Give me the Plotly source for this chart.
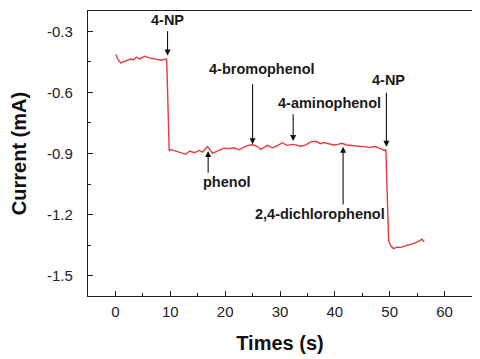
import plotly.graph_objects as go

# Amperometric response
time_s = [0.1, 0.5, 1.0, 1.5, 2.0, 2.85, 3.3, 3.8, 4.4, 5.3, 6.2, 7.1, 8.3, 9.2, 9.35,
          9.8, 10.1, 11.0, 11.9, 12.9, 13.5, 14.4, 15.3, 15.9, 16.8, 17.7, 18.6, 19.8,
          20.7, 21.6, 22.5, 23.8, 25.0, 25.9, 26.5, 27.7, 28.6, 29.5, 30.4, 31.3, 32.5,
          33.8, 34.7, 35.6, 36.5, 37.4, 38.0, 38.6, 39.8, 40.5, 41.3, 42.1, 42.9, 44.0,
          45.3, 46.5, 47.3, 48.0, 48.6, 49.0, 49.3,
          49.8, 50.2, 50.7, 51.3, 51.9, 52.5, 53.2, 54.0, 55.0, 55.9, 56.3]
current_ma = [-0.414, -0.44, -0.455, -0.45, -0.442, -0.435, -0.44, -0.426, -0.435, -0.422,
              -0.43, -0.435, -0.442, -0.435, -0.44,
              -0.888, -0.88, -0.888, -0.896, -0.904, -0.888, -0.896, -0.885, -0.893, -0.866,
              -0.898, -0.888, -0.874, -0.876, -0.872, -0.882, -0.864, -0.856, -0.866, -0.88,
              -0.86, -0.872, -0.862, -0.847, -0.86, -0.855, -0.864, -0.858, -0.843, -0.84,
              -0.852, -0.846, -0.851, -0.858, -0.855, -0.85, -0.858, -0.86, -0.86, -0.864,
              -0.87, -0.866, -0.872, -0.878, -0.886, -0.88,
              -1.329, -1.355, -1.367, -1.36, -1.362, -1.355, -1.35, -1.345, -1.335, -1.321,
              -1.334]

# injections: label, arrow time, arrow tip, arrow tail, label x, label y
inj_labels = ["4-NP", "phenol", "4-bromophenol", "4-aminophenol", "4-NP", "2,4-dichlorophenol"]
inj_time = [9.5, 16.9, 25.0, 32.4, 49.4, 41.5]
inj_tip = [-0.419, -0.888, -0.855, -0.839, -0.867, -0.867]
inj_tail = [-0.292, -1.002, -0.553, -0.70, -0.594, -1.158]
label_x = [9.5, 20.3, 26.8, 39.1, 49.8, 37.2]
label_y = [-0.243, -1.042, -0.484, -0.651, -0.54, -1.199]

FONT = "Arial, Liberation Sans, sans-serif"

fig = go.Figure()
fig.add_trace(go.Scatter(x=time_s, y=current_ma, mode="lines",
                         line=dict(color="#e8393f", width=1.4), showlegend=False))

for lab, t, tip, tail, lx, ly in zip(inj_labels, inj_time, inj_tip, inj_tail, label_x, label_y):
    fig.add_annotation(x=t, y=tip, ax=t, ay=tail, xref="x", yref="y", axref="x", ayref="y",
                       text="", showarrow=True, arrowhead=2, arrowsize=1.1,
                       arrowwidth=1.1, arrowcolor="#111")
    fig.add_annotation(x=lx, y=ly, xref="x", yref="y", text="<b>%s</b>" % lab,
                       showarrow=False, font=dict(family=FONT, size=14.5, color="#1a1a1a"))

axis_common = dict(showline=True, linecolor="#222", linewidth=1.2, mirror=True,
                   ticks="inside", ticklen=5, tickcolor="#222", showgrid=False,
                   zeroline=False, automargin=False,
                   tickfont=dict(family=FONT, size=15, color="#222"))

fig.update_xaxes(range=[-5, 65], tickvals=[0, 10, 20, 30, 40, 50, 60],
                 minor=dict(ticks="inside", ticklen=3, dtick=5, tick0=5, tickcolor="#222"),
                 ticklabelstandoff=2,
                 title=dict(text="<b>Times (s)</b>", font=dict(family=FONT, size=20, color="#111"),
                            standoff=16),
                 **axis_common)
fig.update_yaxes(range=[-1.6, -0.2], tickvals=[-1.5, -1.2, -0.9, -0.6, -0.3],
                 ticktext=["-1.5", "-1.2", "-0.9", "-0.6", "-0.3"],
                 minor=dict(ticks="inside", ticklen=3, dtick=0.15, tick0=-0.15, tickcolor="#222"),
                 ticklabelstandoff=11,
                 title=dict(text="<b>Current (mA)</b>", font=dict(family=FONT, size=20, color="#111"),
                            standoff=18),
                 **axis_common)

# page has an 8px body margin, so the figure is sized to the visible area
fig.update_layout(width=472, height=351, margin=dict(l=80, r=8, t=3, b=63),
                  plot_bgcolor="white", paper_bgcolor="white")

fig.write_html("out.html")
